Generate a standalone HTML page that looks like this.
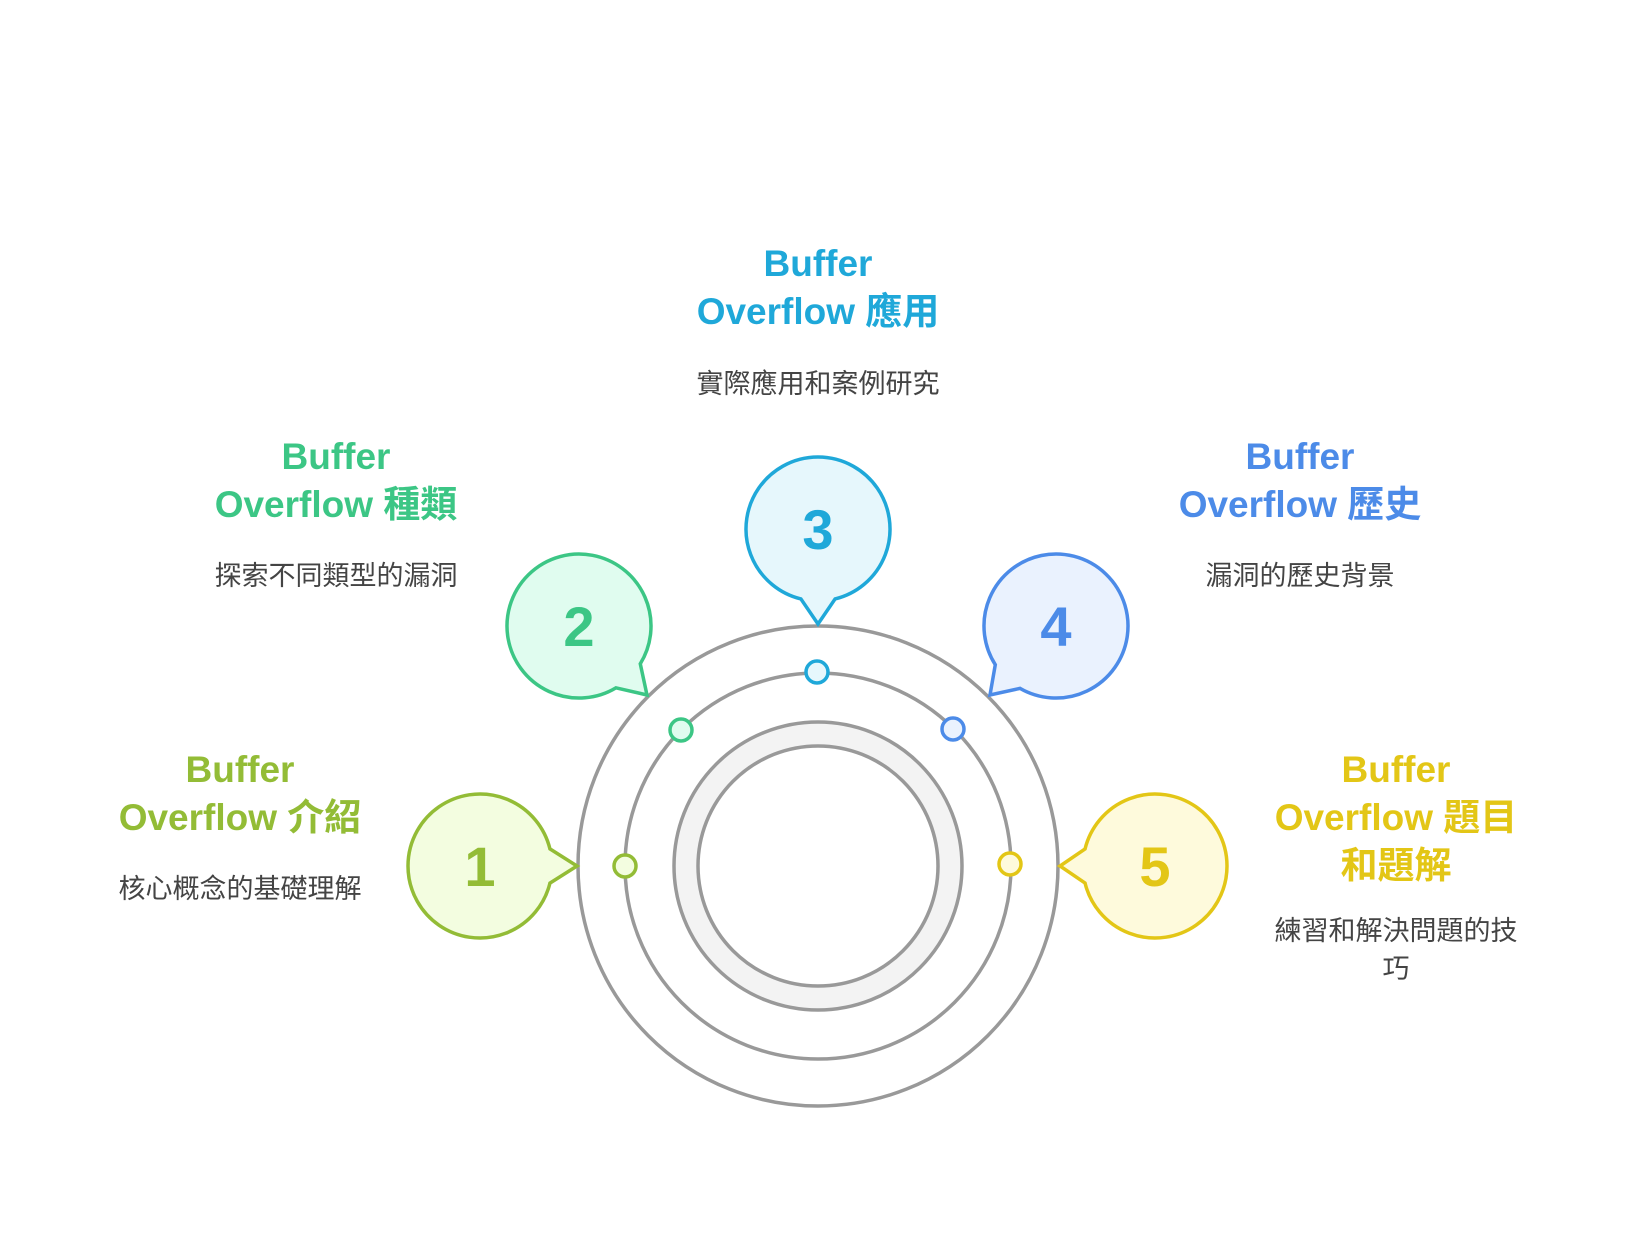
<!DOCTYPE html>
<html><head><meta charset="utf-8"><style>
html,body{margin:0;padding:0;background:#fff;}
svg{display:block}
text{font-family:"Liberation Sans","Noto Sans CJK TC",sans-serif;}
.t{font-weight:bold;font-size:37px;text-anchor:middle}
.d{font-size:27px;fill:#444;text-anchor:middle}
.n{font-weight:bold;font-size:56px;text-anchor:middle}
</style></head><body>
<svg id="s" width="1632" height="1248" viewBox="0 0 1632 1248" xmlns="http://www.w3.org/2000/svg">
<circle cx="818" cy="866" r="240" fill="none" stroke="#999" stroke-width="3.5"/>
<circle cx="818" cy="866" r="193" fill="none" stroke="#999" stroke-width="3.5"/>
<circle cx="818" cy="866" r="132" fill="none" stroke="#f3f3f3" stroke-width="24"/>
<circle cx="818" cy="866" r="144" fill="none" stroke="#999" stroke-width="3.5"/>
<circle cx="818" cy="866" r="120" fill="none" stroke="#999" stroke-width="3.5"/>
<g id="b"></g>
<text class="t" x="240" y="782" fill="#93bc36">Buffer</text>
<text class="t" x="240" y="830" fill="#93bc36">Overflow 介紹</text>
<text class="d" x="240" y="898">核心概念的基礎理解</text>
<text class="t" x="336" y="469" fill="#3cc685">Buffer</text>
<text class="t" x="336" y="517" fill="#3cc685">Overflow 種類</text>
<text class="d" x="336" y="585">探索不同類型的漏洞</text>
<text class="t" x="818" y="276" fill="#1fa8d9">Buffer</text>
<text class="t" x="818" y="324" fill="#1fa8d9">Overflow 應用</text>
<text class="d" x="818" y="393">實際應用和案例研究</text>
<text class="t" x="1300" y="469" fill="#4c8be8">Buffer</text>
<text class="t" x="1300" y="517" fill="#4c8be8">Overflow 歷史</text>
<text class="d" x="1300" y="585">漏洞的歷史背景</text>
<text class="t" x="1396" y="782" fill="#e3c616">Buffer</text>
<text class="t" x="1396" y="830" fill="#e3c616">Overflow 題目</text>
<text class="t" x="1396" y="878" fill="#e3c616">和題解</text>
<text class="d" x="1396" y="940">練習和解決問題的技</text>
<text class="d" x="1396" y="978">巧</text>
</svg>
<script>
var B=[
 [480,866,577,866,625,866,"#93bc36","#f3fde0","1"],
 [579,626,647,695,681,730,"#3cc685","#e0fcef","2"],
 [818,529,818,624,817,672,"#1fa8d9","#e6f7fc","3"],
 [1056,626,990,695,953,729,"#4c8be8","#eaf2fe","4"],
 [1155,866,1060,866,1010,864,"#e3c616","#fefadc","5"]];
var g=document.getElementById('b'),h='',r=72;
B.forEach(function(b){
 var cx=b[0],cy=b[1],tx=b[2],ty=b[3],a=Math.atan2(ty-cy,tx-cx),d=0.24;
 var p1=[cx+r*Math.cos(a-d),cy+r*Math.sin(a-d)],p2=[cx+r*Math.cos(a+d),cy+r*Math.sin(a+d)];
 var path='M'+p2[0]+','+p2[1]+' A'+r+','+r+' 0 1 1 '+p1[0]+','+p1[1]+' L'+tx+','+ty+' Z';
 h+='<path d="'+path+'" fill="'+b[7]+'" stroke="'+b[6]+'" stroke-width="3.5" stroke-linejoin="miter"/>';
 h+='<text class="n" x="'+cx+'" y="'+(cy+20)+'" fill="'+b[6]+'">'+b[8]+'</text>';
 h+='<circle cx="'+b[4]+'" cy="'+b[5]+'" r="11" fill="'+b[7]+'" stroke="'+b[6]+'" stroke-width="3.5"/>';
});
g.innerHTML=h;
</script>
</body></html>
